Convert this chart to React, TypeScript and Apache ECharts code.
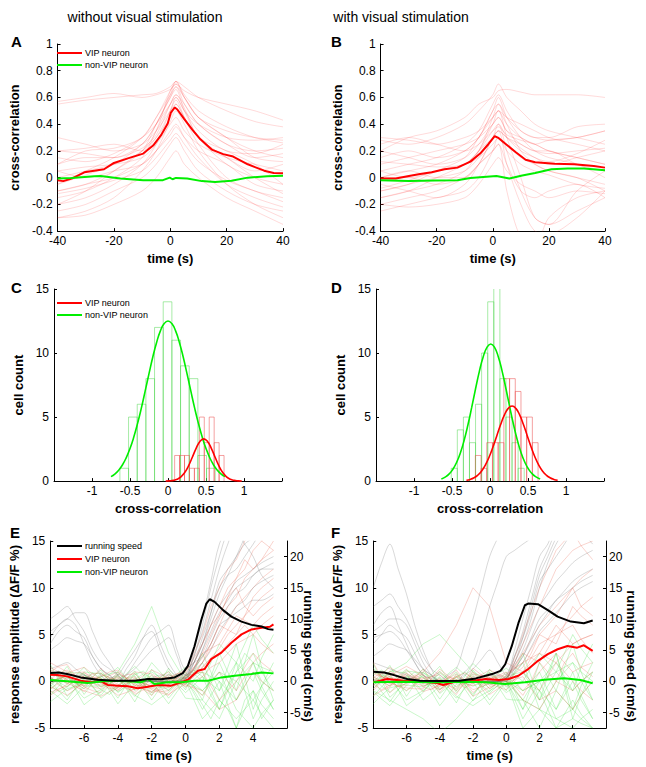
import React, { useEffect, useRef } from "react";
import * as echarts from "echarts";

const FONT = "Arial, 'Liberation Sans', Helvetica, sans-serif";

// ---------------- Panel A (without visual stimulation) ----------------
const A_T = [-40, -30, -20, -10, -5, 0, 2, 5, 10, 20, 30, 40];
const A_TRACES = [
  [0.57, 0.6, 0.63, 0.6, 0.62, 0.66, 0.7, 0.65, 0.6, 0.55, 0.5, 0.43],
  [0.55, 0.58, 0.6, 0.62, 0.63, 0.68, 0.72, 0.68, 0.6, 0.5, 0.42, 0.38],
  [0.1, 0.2, 0.22, 0.3, 0.45, 0.65, 0.72, 0.6, 0.45, 0.35, 0.3, 0.28],
  [-0.05, 0.05, 0.15, 0.3, 0.45, 0.62, 0.68, 0.55, 0.4, 0.25, 0.2, 0.22],
  [-0.1, -0.05, 0.05, 0.2, 0.4, 0.6, 0.66, 0.5, 0.3, 0.1, 0.0, -0.05],
  [0.2, 0.22, 0.25, 0.2, 0.3, 0.5, 0.6, 0.5, 0.35, 0.2, 0.18, 0.25],
  [-0.2, -0.15, -0.05, 0.1, 0.25, 0.5, 0.58, 0.45, 0.25, 0.0, -0.1, -0.15],
  [-0.3, -0.25, -0.15, 0.05, 0.2, 0.42, 0.5, 0.4, 0.2, -0.05, -0.2, -0.3],
  [0.05, 0.08, 0.1, 0.15, 0.25, 0.4, 0.45, 0.35, 0.25, 0.15, 0.1, 0.05],
  [-0.15, -0.1, 0.0, 0.15, 0.35, 0.55, 0.62, 0.52, 0.3, 0.15, 0.0, -0.12],
  [0.3, 0.25, 0.2, 0.25, 0.35, 0.5, 0.55, 0.45, 0.3, 0.15, 0.05, 0.1],
  [-0.25, -0.2, -0.1, 0.0, 0.1, 0.25, 0.3, 0.2, 0.05, -0.1, -0.2, -0.25],
  [0.0, 0.05, 0.1, 0.2, 0.35, 0.65, 0.7, 0.6, 0.45, 0.3, 0.15, 0.12],
  [-0.1, -0.05, 0.0, 0.1, 0.2, 0.32, 0.38, 0.3, 0.2, 0.1, -0.05, -0.1],
  [0.1, 0.15, 0.15, 0.22, 0.32, 0.55, 0.62, 0.55, 0.4, 0.25, 0.15, 0.18],
  [-0.2, -0.1, 0.05, 0.2, 0.3, 0.45, 0.55, 0.45, 0.3, 0.2, 0.1, -0.05],
  [0.05, 0.0, 0.05, 0.1, 0.2, 0.35, 0.4, 0.3, 0.15, -0.05, -0.15, -0.22],
  [-0.05, 0.02, 0.1, 0.25, 0.4, 0.6, 0.68, 0.6, 0.45, 0.3, 0.2, 0.15],
  [0.2, 0.18, 0.15, 0.25, 0.4, 0.62, 0.72, 0.62, 0.5, 0.38, 0.3, 0.26],
  [-0.12, -0.08, -0.02, 0.05, 0.15, 0.28, 0.33, 0.25, 0.12, -0.02, -0.1, -0.18],
  [0.15, 0.12, 0.18, 0.3, 0.4, 0.55, 0.6, 0.5, 0.4, 0.3, 0.28, 0.3],
  [-0.3, -0.28, -0.2, -0.1, 0.0, 0.15, 0.2, 0.1, 0.0, -0.15, -0.25, -0.35],
];
const A_VIP = [
  [-40, -0.02], [-38, -0.026], [-35, -0.007], [-30.5, 0.04], [-23.5, 0.063], [-20, 0.11],
  [-14.8, 0.146], [-9.6, 0.18], [-6.1, 0.24], [-3.2, 0.32], [-0.9, 0.405], [0.2, 0.487],
  [1.6, 0.525], [2.5, 0.51], [4.9, 0.44], [7.8, 0.36], [10.7, 0.287], [14.7, 0.21],
  [18.8, 0.176], [22.3, 0.158], [27.5, 0.1], [33.3, 0.052], [36.7, 0.035], [40, 0.033],
];
const A_NONVIP = [
  [-40, -0.007], [-35, -0.002], [-27, 0.01], [-24.7, 0.012], [-17.7, -0.007], [-9.6, -0.019],
  [-2.6, -0.019], [-0.2, 0.0], [0.8, -0.012], [2, -0.002], [6, -0.007], [11.2, -0.026],
  [15.9, -0.033], [21.7, -0.024], [27.5, 0], [34.4, 0.01], [40, 0.014],
];

// ---------------- Panel B (with visual stimulation) ----------------
const B_T = [-40, -30, -20, -10, -5, 0, 2, 5, 10, 15, 20, 30, 40];
const B_TRACES = [
  [0.28, 0.25, 0.3, 0.4, 0.5, 0.62, 0.7, 0.6, 0.5, 0.4, 0.35, 0.3, 0.25],
  [0.2, 0.3, 0.35, 0.45, 0.55, 0.6, 0.65, 0.66, 0.64, 0.62, 0.62, 0.62, 0.6],
  [-0.1, -0.05, 0.05, 0.15, 0.3, 0.45, 0.5, 0.3, 0.0, -0.3, -0.35, -0.1, 0.05],
  [0.0, 0.0, -0.05, 0.0, 0.1, 0.3, 0.35, 0.1, -0.2, -0.4, -0.42, -0.3, -0.1],
  [0.1, 0.15, 0.2, 0.25, 0.3, 0.4, 0.45, 0.35, 0.3, 0.25, 0.28, 0.3, 0.35],
  [-0.2, -0.15, -0.1, 0.0, 0.1, 0.2, 0.25, 0.1, -0.1, -0.15, -0.1, -0.05, -0.15],
  [0.15, 0.2, 0.15, 0.2, 0.3, 0.5, 0.55, 0.45, 0.35, 0.3, 0.3, 0.38, 0.4],
  [-0.25, -0.2, -0.15, -0.1, 0.0, 0.2, 0.3, 0.25, 0.15, 0.1, 0.05, 0.0, -0.05],
  [0.05, 0.0, 0.05, 0.1, 0.2, 0.35, 0.4, 0.3, 0.2, 0.15, 0.1, 0.15, 0.2],
  [-0.05, -0.1, -0.15, -0.05, 0.1, 0.3, 0.4, 0.2, -0.1, -0.3, -0.35, -0.25, -0.15],
  [0.25, 0.3, 0.25, 0.2, 0.25, 0.35, 0.38, 0.32, 0.28, 0.25, 0.2, 0.15, 0.1],
  [-0.15, -0.1, 0.0, 0.1, 0.2, 0.45, 0.55, 0.4, 0.2, 0.1, 0.05, 0.0, -0.1],
  [0.0, 0.05, 0.0, 0.0, 0.1, 0.2, 0.25, -0.1, -0.45, -0.5, -0.3, -0.15, -0.1],
  [0.3, 0.28, 0.25, 0.3, 0.35, 0.45, 0.5, 0.45, 0.4, 0.35, 0.3, 0.25, 0.2],
  [-0.1, -0.05, 0.0, 0.05, 0.15, 0.3, 0.35, 0.3, 0.25, 0.2, 0.2, 0.1, 0.05],
  [0.0, 0.05, 0.1, 0.2, 0.3, 0.5, 0.6, 0.45, 0.3, 0.2, 0.15, 0.1, 0.0],
  [-0.2, -0.22, -0.2, -0.15, -0.05, 0.1, 0.15, 0.05, -0.05, -0.1, -0.15, -0.1, -0.12],
  [0.2, 0.15, 0.1, 0.15, 0.25, 0.4, 0.45, 0.35, 0.25, 0.2, 0.18, 0.2, 0.22],
  [-0.08, -0.02, 0.05, 0.1, 0.15, 0.25, 0.3, 0.2, 0.1, 0.05, 0.02, -0.05, -0.08],
  [0.12, 0.1, 0.08, 0.1, 0.2, 0.3, 0.35, 0.3, 0.22, 0.15, 0.12, 0.18, 0.28],
  [-0.15, -0.1, -0.05, 0.05, 0.2, 0.4, 0.5, 0.4, 0.3, 0.25, 0.2, 0.15, 0.1],
  [0.05, 0.1, 0.15, 0.25, 0.35, 0.55, 0.62, 0.5, 0.35, 0.3, 0.28, 0.3, 0.35],
];
const B_VIP = [
  [-40, -0.007], [-34.6, -0.007], [-29.9, 0.012], [-25.9, 0.028], [-21.8, 0.04], [-17.2, 0.063],
  [-12.6, 0.075], [-8, 0.12], [-4.5, 0.18], [-1.6, 0.25], [0.7, 0.31], [1.8, 0.3], [4.7, 0.25],
  [8.2, 0.19], [11.7, 0.134], [15.1, 0.115], [22.1, 0.104], [29, 0.1], [36, 0.087], [40, 0.075],
];
const B_NONVIP = [
  [-40, -0.019], [-29.9, -0.026], [-20.7, -0.021], [-12.6, -0.019], [-8, -0.002], [-3.4, 0.005],
  [1.3, 0.012], [5.9, -0.007], [10.5, 0.016], [15.1, 0.035], [20.9, 0.063], [26.7, 0.068],
  [32.5, 0.068], [40, 0.056],
];

// ---------------- Panel C histograms ----------------
const C_NONVIP_BINS = [-0.576, -0.462, -0.348, -0.234, -0.12, -0.006, 0.108, 0.222, 0.336, 0.45, 0.564];
const C_NONVIP_COUNTS = [1, 5, 6, 8, 12, 14, 11, 9, 8, 2, 1];
const C_NONVIP_BIN_W = 0.114;
const C_VIP_BINS = [0.12, 0.185, 0.25, 0.315, 0.38, 0.445, 0.51, 0.575, 0.64, 0.705];
const C_VIP_COUNTS = [2, 2, 2, 1, 1, 5, 3, 5, 3, 2];
const C_VIP_BIN_W = 0.065;
const C_NONVIP_FIT_X = [-0.75, -0.7, -0.65, -0.6, -0.55, -0.5, -0.45, -0.4, -0.35, -0.3, -0.25, -0.2, -0.15, -0.1, -0.05, 0, 0.05, 0.1, 0.15, 0.2, 0.25, 0.3, 0.35, 0.4, 0.45, 0.5, 0.55, 0.6, 0.65, 0.7, 0.75];
const C_NONVIP_FIT_Y = [0.35, 0.55, 0.85, 1.26, 1.82, 2.54, 3.44, 4.51, 5.72, 7.04, 8.39, 9.69, 10.83, 11.73, 12.3, 12.5, 12.3, 11.73, 10.83, 9.69, 8.39, 7.04, 5.72, 4.51, 3.44, 2.54, 1.82, 1.26, 0.85, 0.55, 0.35];
const C_VIP_FIT_X = [-0.03, 0.02, 0.07, 0.12, 0.17, 0.22, 0.27, 0.32, 0.37, 0.42, 0.47, 0.52, 0.57, 0.62, 0.67, 0.72, 0.77, 0.82, 0.87, 0.92, 0.97];
const C_VIP_FIT_Y = [0.006, 0.019, 0.056, 0.145, 0.33, 0.67, 1.19, 1.86, 2.56, 3.1, 3.3, 3.1, 2.56, 1.86, 1.19, 0.67, 0.33, 0.145, 0.056, 0.019, 0.006];

// ---------------- Panel D histograms ----------------
const D_NONVIP_BINS = [-0.47, -0.39, -0.31, -0.23, -0.15, -0.07, 0.01, 0.09, 0.17, 0.25, 0.33, 0.41];
const D_NONVIP_COUNTS = [1, 4, 5, 3, 6, 10, 14, 17, 8, 5, 3, 1];
const D_NONVIP_BIN_W = 0.08;
const D_VIP_BINS = [-0.155, -0.08, -0.005, 0.07, 0.145, 0.22, 0.295, 0.37, 0.445, 0.52, 0.595];
const D_VIP_COUNTS = [2, 1, 3, 3, 3, 8, 8, 7, 5, 5, 3];
const D_VIP_BIN_W = 0.075;
const D_NONVIP_FIT_X = [-0.64, -0.59, -0.54, -0.49, -0.44, -0.39, -0.34, -0.29, -0.24, -0.19, -0.14, -0.09, -0.04, 0.01, 0.06, 0.11, 0.16, 0.21, 0.26, 0.31, 0.36, 0.41, 0.46, 0.51, 0.56, 0.61, 0.66];
const D_NONVIP_FIT_Y = [0.16, 0.31, 0.54, 0.91, 1.45, 2.2, 3.19, 4.4, 5.77, 7.21, 8.57, 9.69, 10.44, 10.7, 10.44, 9.69, 8.57, 7.21, 5.77, 4.4, 3.19, 2.2, 1.45, 0.91, 0.54, 0.31, 0.16];
const D_VIP_FIT_X = [-0.31, -0.26, -0.21, -0.16, -0.11, -0.06, -0.01, 0.04, 0.09, 0.14, 0.19, 0.24, 0.29, 0.34, 0.39, 0.44, 0.49, 0.54, 0.59, 0.64, 0.69, 0.74, 0.79, 0.84, 0.89];
const D_VIP_FIT_Y = [0.065, 0.13, 0.26, 0.47, 0.79, 1.27, 1.9, 2.68, 3.55, 4.42, 5.17, 5.68, 5.86, 5.68, 5.17, 4.42, 3.55, 2.68, 1.9, 1.27, 0.79, 0.47, 0.26, 0.13, 0.065];

// ---------------- Panel E (without visual stimulation) ----------------
const EF_T = [-8, -7.5, -7, -6.5, -6, -5.5, -5, -4.5, -4, -3.5, -3, -2.5, -2, -1.5, -1, -0.5, 0, 0.5, 1, 1.5, 2, 2.5, 3, 3.5, 4, 4.5, 5.2];
const E_VIP_TRIALS = [
  [1.5, 1.0, 0.8, -0.2, -0.5, 0.4, 0.3, -0.6, -1.0, -0.2, 0.2, -0.5, -0.8, 0.1, 0.5, -0.3, 0.2, 1.5, 2.5, 4, 6, 8, 9, 11, 12, 13, 15],
  [0.2, 0.9, 1.2, 0.6, 0.5, -0.6, -0.8, 0.2, 0.4, -0.7, -1.2, -0.4, 0.1, -0.2, -0.5, 0.4, 0.8, 2.5, 4, 6, 8, 10, 11, 12, 14, 15, 16],
  [-0.8, -0.2, 0.3, 0.9, 1.0, 0.2, -0.2, -0.8, -0.6, 0.3, 0.5, -0.9, -1.5, -0.5, 0.2, 0.1, -0.3, 0.6, 1.5, 2.5, 3.5, 5, 6, 7, 8, 9, 10],
  [2.0, 1.5, 1.0, 0.5, 0.2, 0.8, 0.9, 0.1, -0.3, -0.8, -0.9, 0.1, 0.6, 0.2, -0.2, 0.4, 0.5, 1.5, 3, 5, 7, 9, 10, 8, 7, 8, 9],
  [0.5, -0.4, -1.0, -0.6, -0.3, 0.2, 0.5, 1.0, 1.2, 0.3, -0.4, -0.5, -0.2, 0.5, 1.0, 0.1, -0.6, 0.0, 0.5, 1.5, 2, 3, 4, 4.5, 5, 4, 3],
  [1.0, 1.6, 1.8, 0.5, -0.6, -1.0, -1.2, -0.3, 0.3, 0.7, 0.8, -0.1, -0.7, -1.1, -1.0, -0.2, 0.3, -0.8, -1.5, -0.2, 1, 0, -1, 0.5, 2, 3, 4],
  [-1.2, -0.8, -0.5, 0.1, 0.6, 0.3, 0.0, -0.8, -1.5, -1.2, -0.8, -0.2, 0.3, 0.4, 0.4, 0.8, 1.0, 3, 5, 8, 10, 12, 13, 15, 16, 15, 14],
  [0.8, 0.5, 0.2, -0.5, -1.1, -0.2, 0.7, 0.4, 0.1, 0.0, -0.2, -0.8, -1.2, -0.9, -0.6, -0.4, -0.2, 1, 2, 3.5, 5, 6.5, 8, 9, 10, 11, 12],
  [-0.3, 0.3, 0.9, 1.2, 1.5, 0.8, 0.2, -0.2, -0.5, 0.3, 1.0, 0.9, 0.8, 0.2, -0.3, 0.1, 0.4, 0.8, 1, -0.5, -2, -1, 0, 1.5, 3, 2, 1],
  [1.3, 0.5, -0.2, 0.1, 0.4, -0.1, -0.6, 0.0, 0.6, -0.4, -1.4, -0.9, -0.4, 0.2, 0.7, 0.3, -0.1, 1.5, 3, 3.5, 4, 5.5, 7, 6.5, 6, 7, 8],
  [0.0, 0.3, 0.5, -0.2, -0.8, 0.4, 1.4, 0.3, -0.9, -0.3, 0.4, -0.3, -0.9, -1.2, -1.5, -0.5, 0.6, 1.2, 2, 4, 6, 5.5, 5, 7, 9, 10, 11],
  [-0.6, -1.0, -1.5, -0.8, 0.0, -0.2, -0.4, 0.2, 0.8, 0.4, 0.0, 0.6, 1.2, 0.8, 0.3, -0.1, -0.4, -0.7, -1, -2, -3, -2.5, -2, -0.5, 1, 0, -1],
  [0.3, 0.1, -0.2, -0.6, -1.0, -1.3, -1.6, -1.1, -0.7, -0.3, 0.1, -0.2, -0.5, -1.0, -1.4, -0.8, -0.3, 0.5, 1.5, 2.5, 3, 4, 5, 6, 5, 6, 7],
  [-1.5, -0.9, -0.3, 0.4, 0.9, 0.5, 0.1, 0.6, 1.0, 0.3, -0.4, -0.8, -1.1, -0.5, 0.2, 0.8, 1.2, 2, 4, 6, 7, 9, 11, 13, 12, 13, 14],
];
const E_NONVIP_TRIALS = [
  [0.5, -0.3, -1.0, -0.4, 0.3, -0.6, -1.5, -0.4, 0.8, 0.2, -0.5, 0.3, 1.0, 0.4, -0.3, 0.1, 0.4, -0.6, -1.5, 0.2, 2, 0, -2, -0.5, 1, -1, -3],
  [-1.5, -0.5, 0.5, -0.2, -0.8, -0.1, 0.6, -0.6, -1.8, -0.4, 0.9, -0.2, -1.2, -0.2, 0.8, 0.1, -0.6, 0.2, 1, -1, -3, -0.5, 2, -1, -4, -2, 0],
  [1.2, 0.4, -0.3, 0.6, 1.5, 0.4, -0.6, -0.2, 0.2, -0.7, -1.6, -0.6, 0.4, -0.3, -1.0, 0.0, 1.0, -0.5, -2, 0.5, 3, 1, -1, 2, 5, 1.5, -2],
  [-0.6, 0.5, 1.6, 0.1, -1.4, -0.2, 0.9, 0.1, -0.7, -0.1, 0.6, -0.7, -2.0, -0.7, 0.5, -0.3, -1.2, -0.4, 0.5, -0.3, -1, 1.5, 4, 0.5, -3, -0.5, 2],
  [0.0, -1.0, -2.0, -0.7, 0.6, 0.2, -0.2, 0.7, 1.5, 0.3, -1.0, -0.2, 0.7, -0.5, -1.8, -0.7, 0.3, -1.3, -3, -1.5, 0, -2.5, -5, -3, -1, -2.5, -4],
  [-2.2, -1.5, -0.8, -0.5, -0.2, 0.5, 1.2, 0.0, -1.2, -0.5, 0.3, -0.2, -0.6, -0.2, 0.2, 0.0, -0.3, 0.8, 2, 0, -2, -0.5, 1, 2, 3, 1, -1],
  [0.9, 0.6, 0.2, -0.8, -1.8, -1.3, -0.9, -0.2, 0.5, -0.8, -2.2, -0.5, 1.3, 0.3, -0.7, 0.0, 0.7, -0.2, -1, 0, 1, -1, -3, -4, -5, -3.5, -2],
  [-0.9, 0.0, 1.0, 0.9, 0.8, -0.5, -1.8, -1.1, -0.4, 0.3, 1.1, -0.2, -1.5, 0.0, 1.4, 0.2, -0.9, 1, 3, 1, -1, 0.5, 2, 1, 0, 2.5, 5],
  [1.8, 0.1, -1.6, -0.8, 0.0, 0.2, 0.4, -1.0, -2.4, -1.3, -0.2, -0.1, 0.0, -1.2, -2.4, -1.1, 0.1, -2, -4, -3, -2, -3, -4, -3, -2, -3.5, -5],
  [-0.3, 0.2, 0.7, -0.9, -2.5, -1.8, -1.1, 0.0, 1.0, 0.0, -0.9, 0.5, 2.0, 1.0, 0.0, 0.8, 1.5, 0.8, 0, 2, 4, 3, 2, 4, 6, 4.5, 3],
  [0.4, -0.1, -0.6, 0.2, 1.0, 0.9, 0.8, 0.4, -0.1, 0.8, 1.6, 0.7, -0.3, 0.4, 1.1, -0.4, -1.8, -1.9, -2, -3, -4, -2, 0, -1, -2, -0.5, 1],
  [-1.0, -1.7, -2.4, -1.5, -0.5, -0.5, -0.5, 0.0, 0.6, -0.5, -1.5, -2.0, -2.5, -1.8, -1.2, -0.3, 0.6, 0.8, 1, 0.5, 0, -1, -2, 0, 2, -0.5, -3],
  [0, 0.3, 0.5, 0.0, -0.5, 0.0, 0.5, 0.8, 1, 2.5, 4, 6, 8, 5.5, 3, 1.5, 0, -0.5, -1, 0, 1, 0.5, 0, 1, 2, 1.5, 1],
  [0.6, 1.1, 0.4, -0.3, 0.2, 0.9, 0.3, -0.4, -1.1, -0.5, 0.2, 0.8, 0.3, -0.5, -0.9, -0.2, 0.5, 1.2, 0.5, -1.5, -3, -1, 1, 3, 2, 0, -1],
  [-0.4, -1.1, -0.6, 0.2, 0.8, -0.1, -0.9, -1.4, -0.6, 0.3, 0.7, 1.1, 0.2, -0.7, -0.3, 0.5, -0.2, -1, -2.5, -4, -2, -3, -5, -2, -1, -4, -2],
];
const E_SPEED_TRIALS = [
  [10, 11, 12, 10, 8, 5, 3, 2, 1, 0, 0, 0, 0, 0, 0, 0, 1, 3, 6, 10, 14, 17, 20, 23, 25, 25, 25],
  [8, 9, 10, 11, 11, 8, 5, 3, 1, 0, 0, 0, 0, 0, 0, 0, 1, 4, 8, 13, 18, 22, 25, 25, 25, 25, 25],
  [6, 8, 9, 8, 7, 4, 2, 1, 0, 0, 0, 0, 0, 0, 0, 0, 0.5, 2, 5, 9, 12, 14, 16, 17, 18, 19, 20],
  [2, 2.5, 3, 2, 1, 0.5, 0, 0, 0, 2, 4, 7, 9, 6, 3, 1, 0.5, 5, 10, 16, 22, 24, 24, 22, 20, 17, 15],
  [0, 0, 0, 0, 0, 0, 0, 0.5, 1, 3, 5, 7, 8, 5, 2, 1, 1, 3, 7, 11, 15, 17, 18, 20, 22, 24, 25],
  [0, 0, 0, 0, 0, 0, 0, 0, 0, 1, 3, 5, 7, 8, 9, 5, 2, 3, 4, 7, 10, 12, 14, 15, 17, 18, 19],
  [5, 6, 7, 6.5, 6, 4, 2, 1, 0, 0, 0, 0, 0, 0, 0, 0, 0, 1, 3, 5, 8, 10, 12, 13, 15, 16, 17],
  [0, 0, 0, 0, 0, 0, 0, 0, 0, 0, 0, 0, 0, 0, 0, 0, 0.2, 3, 6, 11, 16, 18, 20, 22, 23, 24, 25],
  [1, 1, 1, 1, 1, 0.5, 0, 0, 0, 1, 2, 3.5, 5, 6, 7, 4, 1, 2, 4, 6, 9, 10, 11, 12, 13, 13, 14],
  [7, 9, 10, 9, 6, 3, 1, 0, 0, 0, 0, 0, 0, 0, 0, 0, 0.5, 4, 9, 15, 20, 24, 25, 25, 25, 25, 25],
  [0, 0, 0, 0, 0, 0, 0, 0, 0, 0, 0, 0, 0.5, 1, 1, 0.5, 0.5, 2, 5, 8, 11, 13, 15, 16, 17, 18, 18],
];
const E_SPEED = [
  [-8, 1.32], [-7.5, 1.42], [-7, 1.16], [-6.2, 0.63], [-5.2, 0.26], [-4.2, 0.1], [-3, 0.1],
  [-2.2, 0.37], [-1.45, 0.32], [-0.65, 0.63], [-0.16, 1.32], [0.14, 2.47], [0.53, 5.63],
  [0.93, 9.84], [1.23, 12.47], [1.43, 13.16], [1.72, 12.74], [2.22, 11.42], [2.71, 10.37],
  [3.31, 9.58], [3.9, 9.05], [4.5, 8.79], [4.89, 8.37], [5.2, 8.26],
];
const E_VIP = [
  [-8, 0.71], [-7.58, 0.67], [-7, 0.53], [-6.2, 0.07], [-5.6, -0.11], [-5, 0], [-4.6, -0.39],
  [-4, -0.46], [-3.4, -0.53], [-2.83, -0.74], [-2.24, -0.57], [-1.64, -0.39], [-0.85, -0.46],
  [-0.26, -0.11], [0.14, 0.18], [0.73, 1.13], [1.13, 1.31], [1.52, 2.37], [2.12, 3.07],
  [2.71, 4.13], [3.31, 5.02], [3.9, 5.55], [4.5, 5.72], [4.99, 5.83], [5.2, 6.08],
];
const E_NONVIP = [
  [-8, 0.14], [-7, 0], [-5.8, -0.18], [-4.6, 0.07], [-3.4, 0], [-2.63, -0.11], [-2.24, 0.25],
  [-1.84, -0.28], [-1.05, -0.11], [-0.26, -0.11], [0.53, 0.07], [1.33, 0.07], [2.12, 0.42],
  [2.91, 0.6], [3.9, 0.78], [4.5, 0.95], [5.2, 0.85],
];

// ---------------- Panel F (with visual stimulation) ----------------
const F_VIP_TRIALS = [
  [0.5, 0.0, -0.5, 0.4, 1.2, 0.5, -0.3, 0.0, 0.2, -0.4, -1.0, -0.2, 0.6, 0.1, -0.4, 0.0, 0.3, 1.5, 3, 4.5, 6, 7, 8, 9, 10, 11, 12],
  [-0.8, 0.1, 0.9, 0.4, -0.2, 0.3, 0.8, -0.2, -1.2, -0.3, 0.5, 0.1, -0.3, 0.3, 0.9, 0.2, -0.5, 0.2, 1, 2.5, 4, 4.5, 5, 6, 7, 8, 9],
  [1.2, 0.6, 0.0, -0.5, -1.0, -0.4, 0.3, 0.5, 0.7, 0.0, -0.6, 0.2, 1.0, 0.1, -0.8, -0.1, 0.6, 1.3, 2, 2.5, 3, 4.5, 6, 5, 4, 4.5, 5],
  [0.0, 0.8, 1.5, 0.9, 0.4, -0.4, -1.1, -0.8, -0.4, 0.4, 1.2, 0.0, -1.2, -0.5, 0.3, 0.6, 1.0, 0.0, -1, 0, 1, 2, 3, 2, 1, 1.5, 2],
  [-1.5, -1.0, -0.6, 0.1, 0.8, 0.4, 0.0, 0.5, 1.0, 0.4, -0.2, 0.1, 0.4, -0.5, -1.4, -0.8, -0.2, 0.2, 0.5, -0.8, -2, -1.5, -1, -2, -3, -1.5, 0],
  [0.8, 0.5, 0.3, -0.1, -0.5, 0.4, 1.3, 0.2, -0.9, -0.3, 0.2, -0.2, -0.5, 0.0, 0.6, 0.3, 0.0, 2, 4, 6, 8, 10, 12, 13, 14, 14.5, 15],
  [2.0, 0.4, -1.2, -0.5, 0.2, -0.2, -0.5, -0.1, 0.3, -0.6, -1.4, 0.0, 1.4, 0.7, 0.0, 0.4, 0.8, 1.4, 2, 3.5, 5, 4.5, 4, 6, 8, 7, 6],
  [-0.4, 0.1, 0.6, 1.1, 1.6, 1.1, 0.6, 0.2, -0.2, 0.3, 0.8, 0.0, -0.9, -0.6, -0.2, -0.6, -0.9, 0.0, 1, 0, -1, 0.5, 2, 1, 0, -1, -2],
  [0.3, 0.0, -0.2, -0.5, -0.7, -0.8, -0.8, 0.3, 1.3, 0.6, 0.0, 0.1, 0.2, 0.7, 1.2, 0.8, 0.4, 1.7, 3, 2.5, 2, 3.5, 5, 5.5, 6, 4.5, 3],
  [-1.0, 0.0, 1.1, 0.6, 0.0, 0.2, 0.4, -0.1, -0.6, 0.0, 0.6, -0.5, -1.6, -1.1, -0.6, -0.2, 0.2, -0.9, -2, -2.5, -3, -1.5, 0, -0.5, -1, 0, 1],
  [0, 0.2, 0.5, 0.2, 0, 0.5, 1, 2, 3, 4.5, 6, 8, 10, 9, 8, 5, 2, 1.5, 1, 2, 3, 2.5, 2, 3, 4, 4.5, 5],
  [1.0, 0.5, 0.0, 0.3, 0.6, 0.2, -0.2, -0.1, 0.0, -0.4, -0.8, 0.0, 0.8, 0.6, 0.4, 0.0, -0.3, 2.5, 5, 7.5, 10, 12, 14, 15, 16, 14.5, 13],
  [0.4, 0.9, 0.2, -0.6, -0.2, 0.7, 0.1, -0.5, -0.9, -0.1, 0.5, 0.9, 0.3, -0.4, 0.1, 0.6, 0.2, 0.8, 1.5, 3, 5, 6, 7, 8.5, 10, 8, 7],
  [-0.3, -0.9, -0.4, 0.3, 0.9, 0.2, -0.6, -0.9, -0.3, 0.5, 0.2, -0.7, -0.2, 0.6, 0.4, -0.4, 0.3, -0.5, -1.5, 0, 2, 1, 0, 2, 3, 1.5, 0.5],
];
const F_NONVIP_TRIALS = [
  [0.3, -0.5, -1.2, -0.3, 0.6, -0.2, -1.0, -0.1, 0.9, 0.2, -0.6, 0.1, 0.8, 0.2, -0.4, 0.0, 0.3, -0.8, -2, -0.5, 1, -1, -3, -1.5, 0, -2, -4],
  [-1.6, -0.6, 0.4, -0.3, -1.0, -0.2, 0.7, -0.6, -1.9, -0.6, 0.8, -0.3, -1.4, -0.3, 0.9, 0.2, -0.6, 0.2, 1, -0.5, -2, 0.5, 3, -0.5, -4, -1.5, 1],
  [1.4, 0.6, -0.2, 0.6, 1.3, 0.4, -0.5, -0.2, 0.1, -0.9, -1.8, -0.8, 0.3, -0.4, -1.1, 0.0, 1.0, -1.0, -3, -0.5, 2, 0.5, -1, 1.5, 4, 1, -2],
  [-0.5, 0.6, 1.7, 0.1, -1.6, -0.3, 1.0, 0.1, -0.8, -0.2, 0.5, -0.8, -2.1, -0.9, 0.4, -0.4, -1.2, -0.6, 0, -0.5, -1, 1, 3, 0, -3, -0.5, 2],
  [0.1, -1.1, -2.2, -0.9, 0.5, 0.1, -0.3, 0.7, 1.6, 0.2, -1.2, -0.3, 0.6, -0.7, -2.0, -0.9, 0.2, -1.9, -4, -2.5, -1, -3, -5, -3.5, -2, -3.5, -5],
  [-2.4, -1.5, -0.7, -0.5, -0.3, 0.5, 1.3, 0.0, -1.3, -0.6, 0.2, -0.2, -0.5, -0.2, 0.1, -0.2, -0.4, 0.8, 2, -0.5, -3, -1.5, 0, 1, 2, 0, -2],
  [1.0, 0.7, 0.3, -0.9, -2.0, -1.5, -1.0, -0.3, 0.4, -1.0, -2.3, -0.6, 1.2, 0.2, -0.8, -0.1, 0.6, -0.2, -1, -0.5, 0, -2, -4, -4.5, -5, -4, -3],
  [-0.8, 0.2, 1.1, 1.0, 0.9, -0.6, -2.0, -1.3, -0.5, 0.3, 1.0, -0.3, -1.6, -0.2, 1.3, 0.2, -1.0, 1.0, 3, 0.5, -2, -0.5, 1, 0, -1, 1.5, 4],
  [1.9, 0.1, -1.7, -0.9, -0.1, 0.2, 0.5, -1.1, -2.6, -1.5, -0.3, -0.2, -0.1, -1.3, -2.5, -1.3, 0.0, -2.5, -5, -4, -3, -3.5, -4, -3.5, -3, -4, -5],
  [-0.2, 0.3, 0.8, -0.9, -2.6, -1.9, -1.2, 0.0, 1.1, 0.1, -1.0, 0.5, 1.9, 1.1, 0.2, 0.8, 1.4, 0.7, 0, 1.5, 3, 2, 1, 3, 5, 3.5, 2],
  [0.5, 0.0, -0.5, 0.3, 1.1, 1.0, 0.9, 0.5, 0.0, 0.8, 1.5, 0.7, -0.2, 0.4, 1.0, -0.5, -1.9, -2.0, -2, -3.5, -5, -3, -1, -2, -3, -1.5, 0],
  [-1.1, -1.9, -2.6, -1.5, -0.4, -0.5, -0.6, -0.1, 0.5, -0.6, -1.6, -2.1, -2.6, -2.0, -1.3, -0.4, 0.5, 0.8, 1, 0, -1, -2, -3, -1, 1, -1.5, -4],
  [0, 0.5, 1, 1.5, 2, 3, 4, 4.5, 5, 4, 3, 2, 1, 0.5, 0, 0, 0, -0.5, -1, -0.5, 0, 0.5, 1, 1.5, 2, 1, 0],
  [-1, -1.5, -2, -2.5, -3, -3.5, -4, -4.8, -5.5, -4.8, -4, -3, -2, -1.5, -1, -0.5, 0, -1, -2, -2.5, -3, -4, -5, -4.5, -4, -4.5, -5],
  [0.7, 1.2, 0.5, -0.2, 0.3, 1.0, 0.4, -0.3, -0.9, -0.3, 0.4, 1.0, 0.3, -0.6, -0.2, 0.5, 0.0, -1.5, -3, -1.5, 0, 1, 2, 0.5, -1, 0, 1],
];
const F_SPEED_TRIALS = [
  [12, 13, 14, 12, 10, 7, 4, 2, 1, 0, 0, 0, 0, 0, 0, 0, 0.5, 3, 6, 10, 15, 19, 22, 24, 25, 25, 25],
  [8, 9, 10, 10, 9, 6, 3, 1, 0, 0, 0, 0, 0, 0, 0, 0, 1, 4, 8, 13, 18, 21, 24, 25, 25, 25, 25],
  [7, 7.5, 8, 7, 5, 3, 1, 0.5, 0, 0, 0, 0, 0, 0, 0, 0, 0.5, 2.5, 5, 8.5, 12, 14, 16, 17.5, 19, 20, 21],
  [4, 5, 6, 5.5, 5, 3.5, 2, 1, 0, 0, 0, 1, 2, 3.5, 5, 3, 1, 5, 10, 15, 20, 22, 25, 25, 25, 24, 22],
  [0, 0, 0, 0, 0, 0, 0, 0, 0, 1, 2, 6, 10, 15, 20, 23, 25, 25, 25, 25, 25, 25, 25, 25, 25, 25, 25],
  [0, 0, 0, 0, 0, 0, 0, 0, 0, 0, 0, 1.5, 3, 7, 12, 16, 20, 21, 22, 23, 25, 25, 25, 25, 25, 25, 25],
  [3, 2.5, 2, 1.5, 1, 0.5, 0, 0, 0, 0, 0, 0, 0, 0, 0, 0, 0.5, 2, 4, 6.5, 9, 11, 13, 14, 15, 16, 17],
  [0, 0, 0, 0, 0, 0, 0, 0, 0, 0, 0, 0, 0, 0.5, 1, 1, 0.5, 4, 7, 11, 16, 18, 20, 22, 24, 25, 25],
  [15, 19, 22, 18, 14, 9, 5, 2, 0, 0, 0, 0, 0, 0, 0, 0, 0, 1.5, 3, 5.5, 8, 9.5, 11, 12.5, 14, 15, 16],
  [6, 7.5, 9, 8, 7, 4.5, 2, 1, 0, 0, 0, 0, 0, 0, 0, 0, 0, 2, 4, 7, 10, 11.5, 13, 14.5, 16, 17, 18],
  [9, 11, 12, 9, 6, 3, 1, 0, 0, 0, 0, 0, 0, 0, 0, 0, 0.5, 3, 7, 12, 17, 20, 23, 25, 25, 25, 25],
];
const F_SPEED = [
  [-8, 1.53], [-7.34, 1.42], [-6.75, 1.0], [-5.96, 0.37], [-5.18, 0.1], [-4, 0.05], [-2.81, 0.1],
  [-1.83, 0.47], [-0.85, 1.16], [-0.35, 1.68], [-0.06, 2.74], [0.33, 5.63], [0.73, 9.32],
  [1.12, 12.2], [1.32, 12.47], [1.91, 12.37], [2.5, 11.42], [3.09, 10.37], [3.88, 9.58],
  [4.67, 9.32], [5.2, 9.74],
];
const F_VIP = [
  [-8, -0.11], [-7.15, 0.25], [-6.16, 0.07], [-5.18, 0], [-4.19, -0.18], [-3.8, -0.39],
  [-3.21, -0.11], [-2.22, 0], [-1.24, 0.25], [-0.45, 0.14], [0.14, 0.25], [0.73, 0.6],
  [1.32, 1.31], [1.91, 2.19], [2.5, 2.9], [3.09, 3.43], [3.68, 3.78], [4.27, 3.6], [4.67, 3.85],
  [5.2, 3.25],
];
const F_NONVIP = [
  [-8, -0.11], [-6.16, -0.04], [-4.19, -0.11], [-2.22, -0.04], [-1.24, -0.11], [-0.06, -0.28],
  [1.12, -0.11], [2.3, 0.18], [3.48, 0.32], [4.47, 0.14], [5.2, -0.21],
];

const SPEED_TICKS = [-5, 0, 5, 10, 15, 20];

// ---------------- styling ----------------
const RED = "#ff0000";
const GREEN = "#00ee00";
const FAINT_RED_A = "rgba(255,60,60,0.28)";
const FAINT_RED = "rgba(235,100,80,0.4)";
const FAINT_GREEN = "rgba(70,225,70,0.4)";
const FAINT_GRAY = "rgba(110,110,110,0.38)";
const HIST_GREEN = "rgba(60,210,60,0.45)";
const HIST_RED = "rgba(235,70,70,0.5)";

const pairs = (xs: number[], ys: number[]) => xs.map((x, i) => [x, ys[i]]);

function faint(yi: number, xs: number[], ys: number[], color: string, smooth: number | boolean) {
  return {
    type: "line", xAxisIndex: 0, yAxisIndex: yi, data: pairs(xs, ys), showSymbol: false, symbol: "none",
    smooth, silent: true, z: 2, lineStyle: { color, width: 0.7 }, clip: true,
  };
}
function main(yi: number, data: number[][], color: string, z = 5, width = 2, smooth = false) {
  return {
    type: "line", xAxisIndex: 0, yAxisIndex: yi, data, showSymbol: false, symbol: "none", smooth,
    silent: true, z, lineStyle: { color, width }, clip: true,
  };
}
function hist(centers: number[], counts: number[], w: number, color: string, ymax: number) {
  return {
    type: "custom", xAxisIndex: 0, yAxisIndex: 0, silent: true, z: 2,
    data: pairs(centers, counts),
    renderItem: (_p: any, api: any) => {
      const c = api.value(0);
      const n = api.value(1);
      const top = Math.min(n, ymax);
      const a = api.coord([c - w / 2, 0]);
      const b = api.coord([c + w / 2, top]);
      const style = { fill: "none", stroke: color, lineWidth: 1 };
      if (n > ymax) {
        return {
          type: "group",
          children: [
            { type: "line", shape: { x1: a[0], y1: a[1], x2: a[0], y2: b[1] }, style },
            { type: "line", shape: { x1: b[0], y1: a[1], x2: b[0], y2: b[1] }, style },
          ],
        };
      }
      return {
        type: "polyline",
        shape: { points: [[a[0], a[1]], [a[0], b[1]], [b[0], b[1]], [b[0], a[1]]] },
        style,
      };
    },
  };
}

function axisBase() {
  return {
    axisLine: { show: true, onZero: false, lineStyle: { color: "#000", width: 1 } },
    axisTick: { show: true, inside: true, length: 3, lineStyle: { color: "#000" } },
    splitLine: { show: false },
    nameLocation: "middle",
    nameTextStyle: { fontFamily: FONT, fontWeight: "bold", fontSize: 13, color: "#000" },
  };
}
const lab = (margin: number, formatter?: any) => ({
  fontFamily: FONT, fontSize: 12, color: "#000", margin, ...(formatter ? { formatter } : {}),
});
const hideEnds = (lo: number, hi: number) => (v: number) => (v <= lo + 1e-9 || v >= hi - 1e-9 ? "" : String(v));
function xAx(min: number, max: number, interval: number, name: string, nameGap: number, formatter?: any) {
  return { ...axisBase(), type: "value", min, max, interval, name, nameGap, axisLabel: lab(4, formatter) };
}
function yAx(min: number, max: number, interval: number, name: string, nameGap: number) {
  return { ...axisBase(), type: "value", min, max, interval, name, nameGap, axisLabel: lab(5) };
}
function rightAx() {
  const b = axisBase();
  return {
    ...b, type: "value", position: "right", min: -7.5, max: 22.5,
    axisLabel: { ...lab(3), customValues: SPEED_TICKS.slice() },
    axisTick: { ...b.axisTick, customValues: SPEED_TICKS.slice() },
  };
}

function legendItems(x: number, ys: number[], colors: string[], texts: string[]) {
  const els: any[] = [];
  ys.forEach((y, i) => {
    els.push({ type: "line", shape: { x1: x, y1: y, x2: x + 25, y2: y }, style: { stroke: colors[i], lineWidth: 2 }, z: 100 });
    els.push({
      type: "text", x: x + 28, y, z: 100,
      style: { text: texts[i], fill: "#000", font: `9px ${FONT}`, textAlign: "left", textVerticalAlign: "middle", align: "left", verticalAlign: "middle" },
    });
  });
  return els;
}
function label(text: string, x: number, y: number, font: string, align = "left", rotation = 0) {
  return {
    type: "text", x, y, rotation, z: 100,
    style: { text, fill: "#000", font, textAlign: align, textVerticalAlign: "middle", align, verticalAlign: "middle" },
  };
}

function baseOption(grid: any, xAxis: any, yAxis: any[], series: any[], graphics: any[]) {
  return {
    animation: false,
    backgroundColor: "#fff",
    textStyle: { fontFamily: FONT },
    grid: [grid],
    xAxis: [xAxis],
    yAxis,
    series,
    graphic: { elements: graphics },
  };
}

function optA() {
  const s: any[] = A_TRACES.map((t) => faint(0, A_T, t, FAINT_RED_A, 0.3));
  s.push(main(0, A_VIP, RED), main(0, A_NONVIP, GREEN));
  return baseOption(
    { left: 53, top: 44, width: 230, height: 198 },
    xAx(-40, 40, 20, "time (s)", 12),
    [yAx(-0.4, 1, 0.2, "cross-correlation", 15)],
    s,
    [
      label("without visual stimulation", 145, 17, `14px ${FONT}`, "center"),
      label("A", 11, 41, `bold 15px ${FONT}`),
      ...legendItems(57, [53, 65], [RED, GREEN], ["VIP neuron", "non-VIP neuron"]),
    ],
  );
}
function optB() {
  const s: any[] = B_TRACES.map((t) => faint(0, B_T, t, FAINT_RED_A, 0.3));
  s.push(main(0, B_VIP, RED), main(0, B_NONVIP, GREEN));
  return baseOption(
    { left: 51, top: 44, width: 231, height: 198 },
    xAx(-40, 40, 20, "time (s)", 12),
    [yAx(-0.4, 1, 0.2, "cross-correlation", 15)],
    s,
    [
      label("with visual stimulation", 78, 17, `14px ${FONT}`, "center"),
      label("B", 8, 41, `bold 15px ${FONT}`),
    ],
  );
}
function optC() {
  const s: any[] = [
    hist(C_NONVIP_BINS, C_NONVIP_COUNTS, C_NONVIP_BIN_W, HIST_GREEN, 15),
    hist(C_VIP_BINS, C_VIP_COUNTS, C_VIP_BIN_W, HIST_RED, 15),
    main(0, pairs(C_NONVIP_FIT_X, C_NONVIP_FIT_Y), GREEN, 5, 1.6, true),
    main(0, pairs(C_VIP_FIT_X, C_VIP_FIT_Y), RED, 5, 1.6, true),
  ];
  return baseOption(
    { left: 54, top: 19, width: 228, height: 203 },
    xAx(-1.5, 1.5, 0.5, "cross-correlation", 12, hideEnds(-1.5, 1.5)),
    [yAx(0, 15, 5, "cell count", 12)],
    s,
    [
      label("C", 11, 17, `bold 15px ${FONT}`),
      ...legendItems(57, [33, 45], [RED, GREEN], ["VIP neuron", "non-VIP neuron"]),
    ],
  );
}
function optD() {
  const s: any[] = [
    hist(D_NONVIP_BINS, D_NONVIP_COUNTS, D_NONVIP_BIN_W, HIST_GREEN, 15),
    hist(D_VIP_BINS, D_VIP_COUNTS, D_VIP_BIN_W, HIST_RED, 15),
    main(0, pairs(D_NONVIP_FIT_X, D_NONVIP_FIT_Y), GREEN, 5, 1.6, true),
    main(0, pairs(D_VIP_FIT_X, D_VIP_FIT_Y), RED, 5, 1.6, true),
  ];
  return baseOption(
    { left: 53, top: 19, width: 228, height: 203 },
    xAx(-1.5, 1.5, 0.5, "cross-correlation", 12, hideEnds(-1.5, 1.5)),
    [yAx(0, 15, 5, "cell count", 13)],
    s,
    [label("D", 8, 17, `bold 15px ${FONT}`)],
  );
}
function optE() {
  const s: any[] = [];
  E_NONVIP_TRIALS.forEach((t) => s.push(faint(0, EF_T, t, FAINT_GREEN, false)));
  E_VIP_TRIALS.forEach((t) => s.push(faint(0, EF_T, t, FAINT_RED, false)));
  E_SPEED_TRIALS.forEach((t) => s.push(faint(1, EF_T, t, FAINT_GRAY, 0.3)));
  s.push(main(1, E_SPEED, "#000", 7), main(0, E_VIP, RED, 6), main(0, E_NONVIP, GREEN, 6));
  return baseOption(
    { left: 48, top: 21, width: 239, height: 188 },
    xAx(-8, 6, 2, "time (s)", 13, hideEnds(-8, 6)),
    [yAx(-5, 15, 5, "response amplitude (ΔF/F %)", 15), rightAx()],
    s,
    [
      label("E", 10, 12, `bold 15px ${FONT}`),
      label("running speed (cm/s)", 308, 136, `bold 13px ${FONT}`, "center", -Math.PI / 2),
      ...legendItems(57, [26, 39, 52], ["#000", RED, GREEN], ["running speed", "VIP neuron", "non-VIP neuron"]),
    ],
  );
}
function optF() {
  const s: any[] = [];
  F_NONVIP_TRIALS.forEach((t) => s.push(faint(0, EF_T, t, FAINT_GREEN, false)));
  F_VIP_TRIALS.forEach((t) => s.push(faint(0, EF_T, t, FAINT_RED, false)));
  F_SPEED_TRIALS.forEach((t) => s.push(faint(1, EF_T, t, FAINT_GRAY, 0.3)));
  s.push(main(1, F_SPEED, "#000", 7), main(0, F_VIP, RED, 6), main(0, F_NONVIP, GREEN, 6));
  return baseOption(
    { left: 48, top: 21, width: 235, height: 188 },
    xAx(-8, 6, 2, "time (s)", 13, hideEnds(-8, 6)),
    [yAx(-5, 15, 5, "response amplitude (ΔF/F %)", 14), rightAx()],
    s,
    [
      label("F", 8, 12, `bold 15px ${FONT}`),
      label("running speed (cm/s)", 308, 136, `bold 13px ${FONT}`, "center", -Math.PI / 2),
    ],
  );
}

function Panel({ left, top, width, height, build }: { left: number; top: number; width: number; height: number; build: () => any }) {
  const ref = useRef<HTMLDivElement>(null);
  useEffect(() => {
    if (!ref.current) return;
    const chart = echarts.init(ref.current, undefined, { renderer: "svg" });
    chart.setOption(build());
    return () => chart.dispose();
  }, []);
  return <div ref={ref} style={{ position: "absolute", left, top, width, height }} />;
}

export default function App() {
  return (
    <div style={{ position: "absolute", left: 0, top: 0, width: 646, height: 767, background: "#fff", overflow: "hidden" }}>
      <Panel left={0} top={0} width={323} height={270} build={optA} />
      <Panel left={323} top={0} width={323} height={270} build={optB} />
      <Panel left={0} top={270} width={323} height={250} build={optC} />
      <Panel left={323} top={270} width={323} height={250} build={optD} />
      <Panel left={0} top={520} width={323} height={247} build={optE} />
      <Panel left={323} top={520} width={323} height={247} build={optF} />
    </div>
  );
}
